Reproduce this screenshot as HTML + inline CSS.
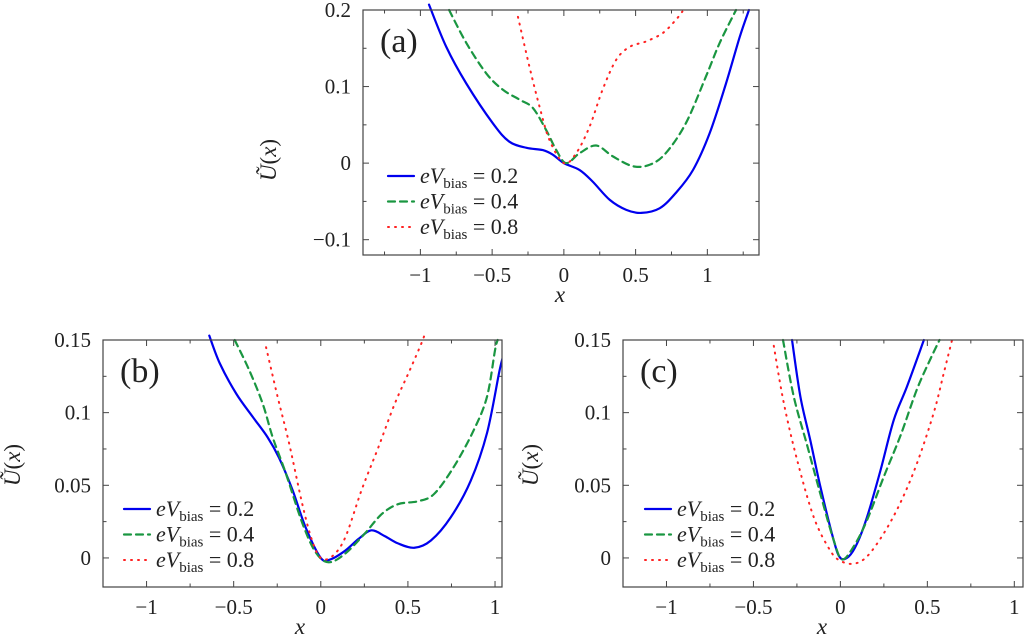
<!DOCTYPE html>
<html><head><meta charset="utf-8"><style>
html,body{margin:0;padding:0;background:#fff;}
svg{display:block;}
text{font-family:"Liberation Serif",serif;fill:#222;}
</style></head><body>
<svg id="fig" width="1024" height="644" viewBox="0 0 1024 644"></svg>
<script>
// Panel (a) data
const aBlueX=[-0.94,-0.82,-0.68,-0.495,-0.38,-0.26,-0.147,-0.077,0,0.11,0.2,0.32,0.435,0.54,0.667,0.78,0.9,1.016,1.13,1.226,1.29];
const aBlueY=[0.207,0.152,0.104,0.052,0.028,0.020,0.017,0.011,0,-0.009,-0.024,-0.048,-0.061,-0.065,-0.059,-0.039,-0.009,0.039,0.104,0.165,0.2];
const aGreenX=[-0.80,-0.68,-0.54,-0.426,-0.31,-0.216,-0.123,-0.053,0.016,0.11,0.225,0.34,0.48,0.6,0.71,0.85,0.99,1.086,1.2];
const aGreenY=[0.2,0.157,0.117,0.096,0.083,0.072,0.043,0.017,0,0.013,0.023,0.009,-0.004,-0.002,0.013,0.052,0.113,0.157,0.2];
const aRedX=[-0.32,-0.24,-0.17,-0.1,0,0.086,0.18,0.27,0.365,0.46,0.574,0.69,0.78,0.826];
const aRedY=[0.191,0.126,0.074,0.03,0,0.013,0.048,0.096,0.135,0.152,0.159,0.17,0.187,0.198];
// Panel (b) data
const bBlueX=[-0.64,-0.58,-0.485,-0.39,-0.305,-0.24,-0.163,-0.087,0,0.055,0.14,0.216,0.29,0.367,0.443,0.537,0.632,0.746,0.86,0.954,1.026,1.05];
const bBlueY=[0.153,0.134,0.113,0.097,0.083,0.069,0.047,0.021,0,-0.001,0.005,0.013,0.019,0.015,0.010,0.007,0.012,0.028,0.053,0.086,0.129,0.14];
const bGreenX=[-0.494,-0.41,-0.333,-0.276,-0.2,-0.106,-0.03,0.045,0.14,0.254,0.348,0.443,0.557,0.65,0.765,0.878,0.954,1.0,1.015];
const bGreenY=[0.15,0.129,0.106,0.083,0.058,0.024,0.004,-0.003,0.003,0.017,0.03,0.037,0.039,0.044,0.063,0.088,0.111,0.143,0.15];
const bRedX=[-0.314,-0.248,-0.182,-0.106,-0.05,0,0.064,0.14,0.235,0.33,0.424,0.51,0.575,0.6];
const bRedY=[0.145,0.111,0.079,0.037,0.012,0,0.001,0.014,0.047,0.076,0.106,0.129,0.147,0.155];
// Panel (c) data
const cBlueX=[-0.278,-0.23,-0.173,-0.115,-0.038,0,0.048,0.096,0.153,0.23,0.307,0.383,0.48];
const cBlueY=[0.15,0.111,0.081,0.049,0.012,0,0.001,0.01,0.028,0.06,0.095,0.118,0.15];
const cGreenX=[-0.33,-0.268,-0.19,-0.115,-0.038,0.01,0.077,0.153,0.25,0.345,0.44,0.518,0.57];
const cGreenY=[0.15,0.111,0.077,0.044,0.012,-0.001,0.008,0.026,0.056,0.084,0.116,0.137,0.15];
const cRedX=[-0.383,-0.326,-0.25,-0.153,-0.058,0,0.077,0.153,0.25,0.345,0.44,0.537,0.594,0.642];
const cRedY=[0.146,0.107,0.068,0.028,0.005,-0.002,-0.004,0.001,0.017,0.038,0.065,0.1,0.127,0.15];
// Tick labels
const aXTicks=[-1,-0.5,0,0.5,1];
const aXTickLabels=["\u22121","\u22120.5","0","0.5","1"];
const aYTicks=[-0.1,0,0.1,0.2];
const aYTickLabels=["\u22120.1","0","0.1","0.2"];
const bcXTicks=[-1,-0.5,0,0.5,1];
const bcXTickLabels=["\u22121","\u22120.5","0","0.5","1"];
const bcYTicks=[0,0.05,0.1,0.15];
const bcYTickLabels=["0","0.05","0.1","0.15"];
const legendLabels=["0.2","0.4","0.8"];

const NS="http://www.w3.org/2000/svg";
const svg=document.getElementById('fig');
function mk(tag,attrs,parent){const e=document.createElementNS(NS,tag);for(const k in attrs)e.setAttribute(k,attrs[k]);(parent||svg).appendChild(e);return e;}
function smooth(pts){
  if(pts.length<2)return "";
  let d="M"+pts[0][0].toFixed(2)+","+pts[0][1].toFixed(2);
  for(let i=0;i<pts.length-1;i++){
    const p0=pts[Math.max(0,i-1)],p1=pts[i],p2=pts[i+1],p3=pts[Math.min(pts.length-1,i+2)];
    const c1=[p1[0]+(p2[0]-p0[0])/6,p1[1]+(p2[1]-p0[1])/6];
    const c2=[p2[0]-(p3[0]-p1[0])/6,p2[1]-(p3[1]-p1[1])/6];
    d+="C"+c1[0].toFixed(2)+","+c1[1].toFixed(2)+" "+c2[0].toFixed(2)+","+c2[1].toFixed(2)+" "+p2[0].toFixed(2)+","+p2[1].toFixed(2);
  }
  return d;
}
const styles=[{stroke:"#0000ee",w:2.2,dash:null},{stroke:"#1a9641",w:2.2,dash:"7,5"},{stroke:"#ff2222",w:2,dash:"1,6"}];

function panel(p){
  const g=mk('g',{});
  
  
  const sx=v=>p.L+(v-p.xmin)/(p.xmax-p.xmin)*(p.R-p.L);
  const sy=v=>p.B-(v-p.ymin)/(p.ymax-p.ymin)*(p.B-p.T);
  const cid='clip-'+p.id;
  const cp=mk('clipPath',{id:cid},g);
  mk('rect',{x:p.L,y:p.T-12,width:p.R-p.L,height:p.B-p.T+12},cp);
  const tg=mk('g',{stroke:"#444","stroke-width":1},g);
  
  
  for(let v=Math.ceil(p.xmin/0.25)*0.25;v<=p.xmax+1e-9;v+=0.25){
    const x=sx(v);const major=Math.abs(v*2-Math.round(v*2))<1e-6;const len=major?6:3.5;
    mk('line',{x1:x,x2:x,y1:p.B,y2:p.B-len},tg);
    mk('line',{x1:x,x2:x,y1:p.T,y2:p.T+len},tg);
  }
  const ystep=p.ymstep;
  for(let v=Math.ceil(p.ymin/ystep-1e-9)*ystep;v<=p.ymax+1e-9;v+=ystep){
    const y=sy(v);const major=p.yTicks.some(t=>Math.abs(t-v)<1e-9);const len=major?6:3.5;
    mk('line',{x1:p.L,x2:p.L+len,y1:y,y2:y},tg);
    mk('line',{x1:p.R,x2:p.R-len,y1:y,y2:y},tg);
  }
  p.xTicks.forEach((v,i)=>{
    const t=mk('text',{x:sx(v),y:p.B+27,"text-anchor":"middle","font-size":21},g);
    
    
    t.textContent=p.xLabels[i];
  });
  p.yTicks.forEach((v,i)=>{
    const t=mk('text',{x:p.L-12,y:sy(v)+7,"text-anchor":"end","font-size":21},g);
    
    
    t.textContent=p.yLabels[i];
  });
  const xt=mk('text',{x:(p.xtx),y:p.B+47,"text-anchor":"middle","font-size":23,"font-style":"italic"},g);
  
  
  xt.textContent="x";
  const yt=mk('text',{x:0,y:0,"text-anchor":"middle","font-size":23,transform:"translate("+p.ytx+","+p.yty+") rotate(-90)"},g);
  
  
  yt.innerHTML='<tspan font-style="italic">Ũ</tspan>(<tspan font-style="italic">x</tspan>)';
  const cg=mk('g',{"clip-path":"url(#"+cid+")"},g);
  p.series.forEach((s,k)=>{
    const pts=s[0].map((xv,i)=>[sx(xv),sy(s[1][i])]);
    const st=styles[k];
    const a={d:smooth(pts),fill:"none",stroke:st.stroke,"stroke-width":st.w,"stroke-linecap":"round"};
    if(st.dash)a["stroke-dasharray"]=st.dash;
    const path=mk('path',a,cg);
    
    
  });
  const fr=mk('rect',{x:p.L,y:p.T,width:p.R-p.L,height:p.B-p.T,fill:"none",stroke:"#444","stroke-width":1.2},g);
  
  
  const pl=mk('text',{x:p.L+17,y:p.T+42,"font-size":34},g);
  
  
  pl.textContent="("+p.id+")";
  const lg=mk('g',{},g);
  
  
  legendLabels.forEach((lab,k)=>{
    const y=p.legY+k*25.5;const st=styles[k];
    const ea=mk('g',{},lg);
    
    
    const la={x1:p.legX,x2:p.legX+26,y1:y,y2:y,stroke:st.stroke,"stroke-width":st.w,"stroke-linecap":"round"};
    if(st.dash)la["stroke-dasharray"]=st.dash;
    mk('line',la,ea);
    const t=mk('text',{x:p.legX+32,y:y+7,"font-size":22},ea);
    t.innerHTML='<tspan font-style="italic">eV</tspan><tspan font-size="15" dy="5">bias</tspan><tspan dy="-5"> = '+lab+'</tspan>';
  });
}

panel({id:"a",L:363,R:759,T:10,B:255,xmin:-1.40,xmax:1.36,ymin:-0.12,ymax:0.2,ymstep:0.05,
  xTicks:aXTicks,xLabels:aXTickLabels,yTicks:aYTicks,yLabels:aYTickLabels,xtx:560,ytx:276,yty:160,
  legX:388,legY:176,series:[[aBlueX,aBlueY],[aGreenX,aGreenY],[aRedX,aRedY]]});
panel({id:"b",L:103,R:502,T:340,B:587,xmin:-1.25,xmax:1.04,ymin:-0.02,ymax:0.15,ymstep:0.025,
  xTicks:bcXTicks,xLabels:bcXTickLabels,yTicks:bcYTicks,yLabels:bcYTickLabels,xtx:300,ytx:20,yty:465,
  legX:124,legY:509,series:[[bBlueX,bBlueY],[bGreenX,bGreenY],[bRedX,bRedY]]});
panel({id:"c",L:623,R:1023,T:340,B:587,xmin:-1.25,xmax:1.05,ymin:-0.02,ymax:0.15,ymstep:0.025,
  xTicks:bcXTicks,xLabels:bcXTickLabels,yTicks:bcYTicks,yLabels:bcYTickLabels,xtx:822,ytx:538,yty:465,
  legX:645,legY:509,series:[[cBlueX,cBlueY],[cGreenX,cGreenY],[cRedX,cRedY]]});
</script>
</body></html>
